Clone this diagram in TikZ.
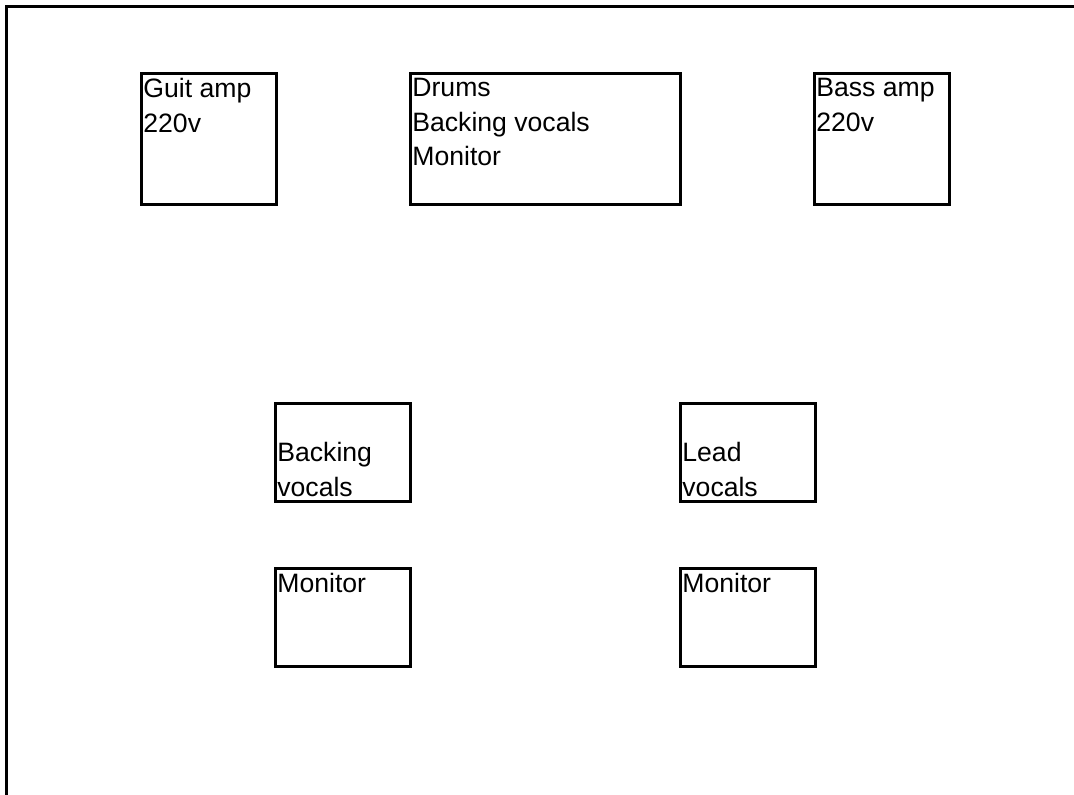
\documentclass[tikz,border=0pt]{standalone}
\usepackage{fontspec}
\setmainfont{Liberation Sans}
\usetikzlibrary{positioning}
\tikzset{%
  stage_edge/.style={%
    draw=black,%
    line width=1.5pt,%
    line cap=rect,%
  },
  stage_box/.style={%
    draw=black,%
    rectangle,%
    line width=1.5pt,%
    inner sep=0pt,%
    anchor=north west,%
  },
  amp_box/.style={%
    stage_box,%
    minimum width=67.5pt,%
    minimum height=65.5pt,%
  },
  riser_box/.style={%
    stage_box,%
    minimum width=135pt,%
    minimum height=65.5pt,%
  },
  floor_box/.style={%
    stage_box,%
    minimum width=67.5pt,%
    minimum height=49pt,%
  },
  box_text/.style={%
    font={\fontsize{13.3}{17.3}\selectfont},%
    align=left,%
    inner xsep=1.5pt,%
    inner ysep=3pt,%
  },
}

\begin{document}
\begin{tikzpicture}[x=0.5pt, y=-0.5pt]

    \useasboundingbox (0,0) rectangle (1074,794);

    % stage edge
    \coordinate (edge_bottom) at (6,794);
    \coordinate (edge_corner) at (6,6);
    \coordinate (edge_right) at (1074,6);
    \draw [stage_edge] (edge_bottom) -- (edge_corner) -- (edge_right);

    % back line
    \node [amp_box] (GuitAmp) at (140,72) {};
    \node [riser_box] (Drums) at (409,72) {};
    \node [amp_box] (BassAmp) at (813,72) {};

    % front line
    \node [floor_box] (BackingVox) at (274,402) {};
    \node [floor_box] (MonitorLeft) at (274,567) {};
    \node [floor_box] (LeadVox) at (679,402) {};
    \node [floor_box] (MonitorRight) at (679,567) {};

    % labels
    \node [box_text, anchor=north west] (GuitAmp_text)
      at (GuitAmp.north west) {Guit amp\\220v};
    \node [box_text, anchor=north west] (Drums_text)
      at (Drums.north west) {Drums\\Backing vocals\\Monitor};
    \node [box_text, anchor=north west] (BassAmp_text)
      at (BassAmp.north west) {Bass amp\\220v};
    \node [box_text, below right = 17pt and 0pt of BackingVox.north west] (BackingVox_text)
      {Backing\\vocals};
    \node [box_text, anchor=north west] (MonitorLeft_text)
      at (MonitorLeft.north west) {Monitor};
    \node [box_text, below right = 17pt and 0pt of LeadVox.north west] (LeadVox_text)
      {Lead\\vocals};
    \node [box_text, anchor=north west] (MonitorRight_text)
      at (MonitorRight.north west) {Monitor};

  \end{tikzpicture}
\end{document}
